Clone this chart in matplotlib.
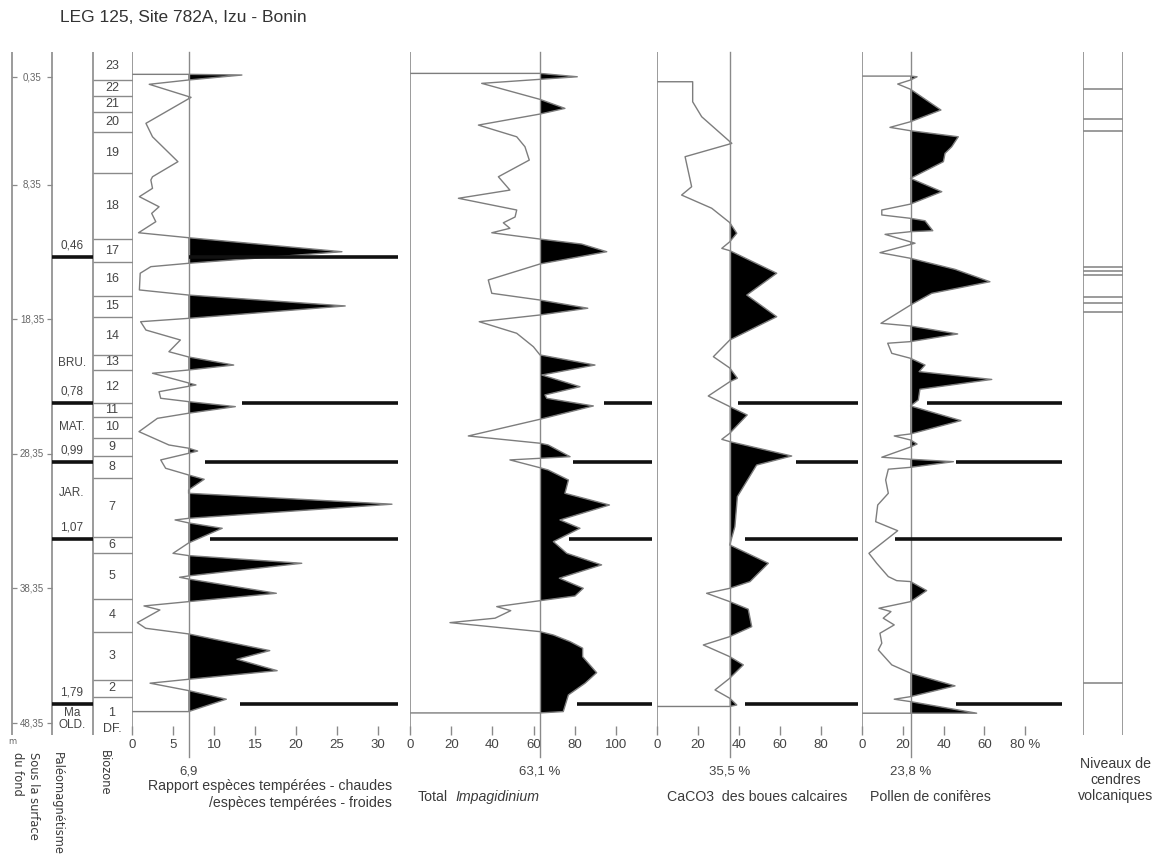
import matplotlib
matplotlib.use('Agg')
import matplotlib.pyplot as plt
from matplotlib import font_manager
import numpy as np

W, H = 1152, 861
TOP_PX, BOT_PX = 52, 735
Y_TOP, Y_BOT = -1.51, 49.24   # depth range shown (m)

_names = {f.name for f in font_manager.fontManager.ttflist}
if 'Liberation Sans Narrow' in _names:
    NARROW = ['Liberation Sans Narrow', 'DejaVu Sans']
    NSIZE, TSIZE = 11.5, 10.5
else:
    NARROW = ['Liberation Sans', 'DejaVu Sans']
    NSIZE, TSIZE = 10.2, 9.5
ARIAL = ['Liberation Sans', 'DejaVu Sans']
TXT = '#3a3a3a'
GRAY = '#8a8a8a'
CURVE = '#7d7d7d'

# ---------------- data ----------------
depth_ticks = [0.35, 8.35, 18.35, 28.35, 38.35, 48.35]
depth_tick_labels = ['0,35', '8,35', '18,35', '28,35', '38,35', '48,35']

biozone_bounds = [0.57, 1.76, 2.95, 4.44, 7.48, 12.39, 14.09, 16.62, 18.18, 21.00,
                  22.12, 24.57, 25.61, 27.17, 28.51, 30.14, 34.52, 35.71, 39.13,
                  41.58, 45.14, 46.41]
biozone_labels = ['23', '22', '21', '20', '19', '18', '17', '16', '15', '14', '13',
                  '12', '11', '10', '9', '8', '7', '6', '5', '4', '3', '2']
last_zone_labels = ['1', 'DF.']
last_zone_label_depths = [47.64, 48.83]

reversal_depths = [13.72, 24.60, 28.95, 34.67, 46.97]
reversal_ages = ['0,46', '0,78', '0,99', '1,07', '1,79']
chron_names = ['BRU.', 'MAT.', 'JAR.', 'Ma', 'OLD.']
chron_depths = [21.6, 26.35, 31.25, 47.6, 48.49]

ash_depths = [1.24, 3.47, 4.36, 14.47, 14.76, 15.06, 16.69, 17.14, 17.81, 45.37]

# Panel 1: ratio warm-temperate / cold-temperate species
p1_base = 6.9
p1_depth = [0.15, 0.15, 0.20, 0.57, 0.89, 1.86, 3.79, 4.79, 6.64, 7.76, 8.00, 8.62, 9.24,
            9.99, 10.48, 11.10, 11.92, 12.29, 13.33, 14.19, 14.44, 14.93, 16.17, 16.55,
            17.36, 18.28, 18.53, 19.15, 19.89, 20.76, 21.15, 21.75, 22.12, 22.36, 23.23,
            23.73, 24.22, 24.47, 24.84, 25.33, 25.71, 26.70, 27.69, 27.93, 28.14, 28.31,
            28.80, 29.42, 29.92, 30.24, 31.03, 31.28, 32.09, 33.14, 33.26, 33.48, 33.88,
            34.97, 35.74, 35.91, 36.48, 37.42, 37.52, 37.65, 38.71, 39.33, 39.65, 39.95,
            40.89, 41.31, 41.73, 42.97, 43.61, 44.46, 45.10, 45.39, 45.94, 46.58, 47.50,
            47.50]
p1_vals = [0, 6.9, 13.4, 6.9, 2.1, 7.2, 1.7, 2.5, 5.6, 2.5, 2.3, 2.5, 0.9, 3.3, 2.4, 2.9,
           0.8, 6.9, 25.6, 6.9, 2.3, 1.0, 0.9, 6.9, 26.0, 6.9, 1.05, 1.7, 5.9, 4.5, 6.9,
           12.4, 6.9, 2.5, 7.8, 3.3, 3.5, 6.9, 12.6, 6.9, 3.1, 0.85, 4.5, 6.9, 8.0, 6.9,
           3.5, 4.1, 6.9, 8.8, 6.9, 6.9, 31.7, 6.9, 5.25, 6.9, 11.0, 6.9, 5.0, 6.9, 20.7,
           6.9, 5.8, 6.9, 17.6, 6.9, 1.46, 3.4, 0.65, 1.67, 6.9, 16.8, 12.8, 17.7, 6.9,
           2.2, 6.9, 11.5, 6.9, 0]
p1_rev_depths = [13.72, 24.60, 28.95, 34.67, 46.97]
p1_rev_start = [6.9, 13.4, 8.9, 9.5, 13.2]
p1_rev_end = 32.4
p1_ticks = [0, 5, 10, 15, 20, 25, 30]

# Panel 2: Total Impagidinium
p2_base = 63.1
p2_depth = [0.08, 0.08, 0.33, 0.52, 0.82, 2.01, 2.68, 3.10, 3.92, 4.79, 5.53, 6.52, 7.76,
            8.75, 9.36, 10.23, 10.75, 11.18, 11.59, 11.92, 12.39, 12.76, 13.33, 14.24,
            15.43, 16.42, 16.92, 17.53, 18.03, 18.53, 19.39, 20.39, 21.00, 21.75, 22.49,
            23.36, 23.97, 24.22, 24.79, 25.78, 27.02, 27.56, 27.69, 28.56, 28.68, 28.80,
            29.38, 29.55, 30.29, 31.28, 32.15, 33.26, 33.88, 34.87, 35.74, 36.60, 37.59,
            38.34, 38.91, 39.26, 39.70, 40.00, 40.56, 40.89, 41.56, 41.81, 42.30, 42.79,
            43.42, 44.61, 45.39, 46.26, 47.50, 47.60, 47.60]
p2_vals = [0, 63.1, 81.2, 63.1, 34.8, 63.1, 75.2, 63.1, 33.2, 51.8, 55.8, 57.9, 42.9, 48.5,
           23.5, 51.8, 51.0, 45.3, 48.5, 39.7, 63.1, 83.3, 95.5, 63.1, 38.0, 39.7, 63.1,
           86.3, 63.1, 33.6, 51.8, 59.9, 63.1, 89.8, 64.0, 82.5, 65.5, 66.4, 89.0, 63.1,
           28.3, 63.1, 67.1, 77.7, 63.1, 48.5, 63.1, 67.1, 76.9, 75.2, 96.8, 72.8, 82.5,
           69.6, 76.1, 93.0, 72.5, 84.1, 80.1, 63.1, 42.1, 48.9, 41.3, 19.4, 63.1, 69.6,
           77.7, 83.8, 83.8, 90.6, 85.0, 76.9, 74.4, 63.1, 0]
p2_rev_depths = [24.60, 28.95, 34.67, 46.97]
p2_rev_start = [94, 79, 77, 81]
p2_rev_end = 117.5
p2_ticks = [0, 20, 40, 60, 80, 100]

# Panel 3: CaCO3 of calcareous muds
p3_base = 35.5
p3_depth = [0.70, 0.70, 2.19, 3.30, 5.28, 6.27, 8.50, 9.12, 10.10, 11.17, 11.96, 12.59,
            13.08, 13.25, 14.93, 16.55, 18.16, 19.89, 21.13, 21.97, 22.73, 22.99, 24.05,
            24.84, 25.46, 26.82, 27.27, 27.44, 28.51, 29.18, 31.53, 33.76, 35.12, 36.48,
            37.84, 38.34, 38.71, 39.33, 39.89, 41.19, 41.93, 42.55, 43.42, 44.03, 45.02,
            45.89, 46.51, 47.01, 47.12, 47.12]
p3_vals = [0, 17.4, 17.4, 21.8, 36.5, 13.7, 16.9, 12.0, 26.7, 35.5, 38.9, 35.5, 31.6,
           35.5, 58.4, 43.8, 58.4, 35.5, 27.5, 35.5, 39.2, 35.5, 25.0, 35.5, 44.0, 35.5,
           31.6, 35.5, 65.7, 48.6, 39.2, 38.0, 35.5, 54.3, 45.4, 35.5, 24.2, 35.5, 44.5,
           46.2, 35.5, 22.6, 35.5, 42.1, 35.5, 28.3, 35.5, 38.9, 35.5, 0]
p3_rev_depths = [24.60, 28.95, 34.67, 46.97]
p3_rev_start = [39.5, 68, 43, 43]
p3_rev_end = 98
p3_ticks = [0, 20, 40, 60, 80]

# Panel 4: conifer pollen
p4_base = 23.8
p4_depth = [0.28, 0.28, 0.33, 0.57, 0.87, 1.26, 2.80, 3.67, 4.09, 4.34, 4.79, 5.53, 6.02,
            6.64, 7.88, 8.87, 9.79, 10.23, 10.60, 10.85, 11.03, 11.77, 11.84, 12.04, 12.70,
            13.40, 13.82, 14.64, 15.56, 16.42, 17.29, 18.65, 18.85, 19.44, 20.01, 20.13,
            20.88, 21.25, 21.75, 22.24, 22.82, 23.55, 24.35, 24.79, 25.88, 26.87, 27.02,
            27.32, 27.62, 27.84, 28.60, 28.75, 28.93, 29.35, 29.49, 30.29, 31.28, 32.15,
            33.39, 34.06, 35.74, 36.48, 37.47, 37.77, 37.84, 38.51, 39.33, 39.82, 40.07,
            40.56, 41.06, 41.68, 42.42, 42.92, 44.03, 44.65, 45.59, 46.39, 46.58, 46.76,
            47.62, 47.62, 47.62]
p4_vals = [0, 23.8, 27, 23.8, 17.5, 23.8, 38.7, 23.8, 13.7, 23.8, 47.2, 44.0, 40.7, 39.9,
           23.8, 39.1, 23.8, 9.7, 9.7, 23.8, 30.9, 34.7, 23.8, 11.3, 26, 8.8, 23.8, 45.6,
           62.7, 34.2, 23.8, 9.3, 23.8, 46.9, 23.8, 12.6, 14.6, 23.8, 30.9, 28, 63.6, 28.4,
           27.6, 23.8, 48.5, 23.8, 15.8, 23.8, 27, 23.8, 9.7, 23.8, 44.8, 23.8, 12.9, 11.6,
           12.9, 7.7, 6.7, 17.5, 3.4, 7.2, 12.9, 17.0, 23.8, 31.7, 23.8, 8.3, 14.2, 10.4,
           15.8, 8.8, 9.7, 8.0, 14.6, 23.8, 45.6, 23.8, 15.8, 23.8, 56.2, 23.8, 0]
p4_rev_depths = [24.60, 28.95, 34.67, 46.97]
p4_rev_start = [31.9, 46, 16, 46]
p4_rev_end = 98
p4_ticks = [0, 20, 40, 60, 80]
p4_tick_labels = ['0', '20', '40', '60', '80 %']

# ---------------- figure ----------------
fig = plt.figure(figsize=(W / 100, H / 100), dpi=100)


def px_axes(x0, x1):
    ax = fig.add_axes([x0 / W, 1 - BOT_PX / H, (x1 - x0) / W, (BOT_PX - TOP_PX) / H])
    ax.set_ylim(Y_BOT, Y_TOP)
    for s in ax.spines.values():
        s.set_visible(False)
    ax.yaxis.set_visible(False)
    ax.patch.set_alpha(0)
    return ax


def ftext(x, y, s, **kw):
    kw.setdefault('color', TXT)
    fig.text(x / W, 1 - y / H, s, **kw)


# title
ftext(60, 18, 'LEG 125, Site 782A, Izu - Bonin', fontsize=12.5, family=ARIAL,
      ha='left', va='center', color='#333333')

# left columns (depth / paleomagnetism / biozones)
axl = px_axes(0, 133)
axl.set_xlim(0, 133)
axl.xaxis.set_visible(False)
axl.vlines([12, 52, 93], Y_TOP, Y_BOT, color=GRAY, lw=1.2)
for d, lab in zip(depth_ticks, depth_tick_labels):
    axl.hlines(d, 12, 17, color=GRAY, lw=0.9)
    axl.hlines(d, 47, 52, color=GRAY, lw=0.9)
    axl.text(32, d, lab, ha='center', va='center', fontsize=7, color='#666666',
             family=ARIAL)
axl.hlines(biozone_bounds, 93, 133, color=GRAY, lw=1.0)
edges = [Y_TOP] + biozone_bounds
for i, lab in enumerate(biozone_labels):
    axl.text(112, (edges[i] + edges[i + 1]) / 2, lab, ha='center', va='center',
             fontsize=9, color='#444444', family=ARIAL)
for d, lab in zip(last_zone_label_depths, last_zone_labels):
    axl.text(112, d, lab, ha='center', va='center', fontsize=9, color='#444444',
             family=ARIAL)
axl.hlines(reversal_depths, 52, 93, color='#111111', lw=2.6)
for d, lab in zip(reversal_depths, reversal_ages):
    axl.annotate(lab, (72, d), xytext=(0, 8.5), textcoords='offset points',
                 ha='center', va='center', fontsize=8.5, color='#444444', family=ARIAL)
for d, lab in zip(chron_depths, chron_names):
    axl.text(72, d, lab, ha='center', va='center', fontsize=8.5, color='#444444',
             family=ARIAL)

# data panels
panels = [
    (132, 410, 33.9, p1_depth, p1_vals, p1_base, p1_rev_depths, p1_rev_start, p1_rev_end,
     p1_ticks, [str(t) for t in p1_ticks], '6,9'),
    (410, 657, 119.9, p2_depth, p2_vals, p2_base, p2_rev_depths, p2_rev_start, p2_rev_end,
     p2_ticks, [str(t) for t in p2_ticks], '63,1 %'),
    (657, 862, 100.0, p3_depth, p3_vals, p3_base, p3_rev_depths, p3_rev_start, p3_rev_end,
     p3_ticks, [str(t) for t in p3_ticks], '35,5 %'),
    (862, 1066, 100.0, p4_depth, p4_vals, p4_base, p4_rev_depths, p4_rev_start, p4_rev_end,
     p4_ticks, p4_tick_labels, '23,8 %'),
]

ext = (BOT_PX - 757) / (BOT_PX - TOP_PX)
for (x0, x1, xmax, dep, val, base, rdep, rstart, rend, ticks, tlabels, blab) in panels:
    ax = px_axes(x0, x1)
    ax.set_xlim(0, xmax)
    dep = np.asarray(dep)
    val = np.asarray(val)
    ax.fill_betweenx(dep, base, val, where=val >= base, interpolate=True,
                     color='black', lw=0)
    ax.plot(val, dep, color=CURVE, lw=1.0)
    ax.axvline(0, color=GRAY, lw=1.2)
    ax.plot([base, base], [ext, 1], transform=ax.get_xaxis_transform(),
            color=GRAY, lw=1.0, clip_on=False)
    ax.hlines(rdep, rstart, rend, color='#111111', lw=2.6)
    ax.set_xticks(ticks)
    ax.set_xticklabels(tlabels, family=NARROW)
    ax.tick_params(axis='x', direction='in', length=6.5, width=1.0, color=GRAY,
                   labelsize=TSIZE, labelcolor='#444444', pad=3)
    ax.text(base, ext - 0.012, blab, transform=ax.get_xaxis_transform(),
            ha='center', va='top', fontsize=TSIZE, color='#444444', family=NARROW)

# volcanic ash column
axa = px_axes(1083, 1123)
axa.set_xlim(0, 1)
axa.xaxis.set_visible(False)
axa.vlines([0, 1], Y_TOP, Y_BOT, color=GRAY, lw=1.2)
axa.hlines(ash_depths, 0, 1, color=GRAY, lw=1.2)

# bottom labels
ftext(12, 742, 'm', fontsize=6, ha='center', va='center', color='#666666')
ftext(25, 752, 'Sous la surface\ndu fond', rotation=270, ha='center', va='top',
      fontsize=8.3, family=['DejaVu Sans'], multialignment='left', linespacing=1.3)
ftext(57, 752, 'Paléomagnétisme', rotation=270, ha='center', va='top', fontsize=8.3,
      family=['DejaVu Sans'])
ftext(104, 750, 'Biozone', rotation=270, ha='center', va='top', fontsize=8.3,
      family=['DejaVu Sans'])
ftext(392, 786, 'Rapport espèces tempérées - chaudes', ha='right', va='center',
      fontsize=NSIZE, family=NARROW)
ftext(392, 803, '/espèces tempérées - froides', ha='right', va='center',
      fontsize=NSIZE, family=NARROW)
ftext(418, 797, 'Total', ha='left', va='center', fontsize=NSIZE, family=NARROW)
ftext(455, 797, 'Impagidinium', ha='left', va='center', fontsize=NSIZE, family=NARROW,
      style='italic')
ftext(667, 797, 'CaCO3  des boues calcaires', ha='left', va='center', fontsize=NSIZE,
      family=NARROW)
ftext(870, 797, 'Pollen de conifères', ha='left', va='center', fontsize=NSIZE,
      family=NARROW)
ftext(1116, 780, 'Niveaux de\ncendres\nvolcaniques', ha='center', va='center',
      fontsize=NSIZE, family=NARROW, multialignment='center', linespacing=1.15)

fig.savefig('out.png', dpi=100)
